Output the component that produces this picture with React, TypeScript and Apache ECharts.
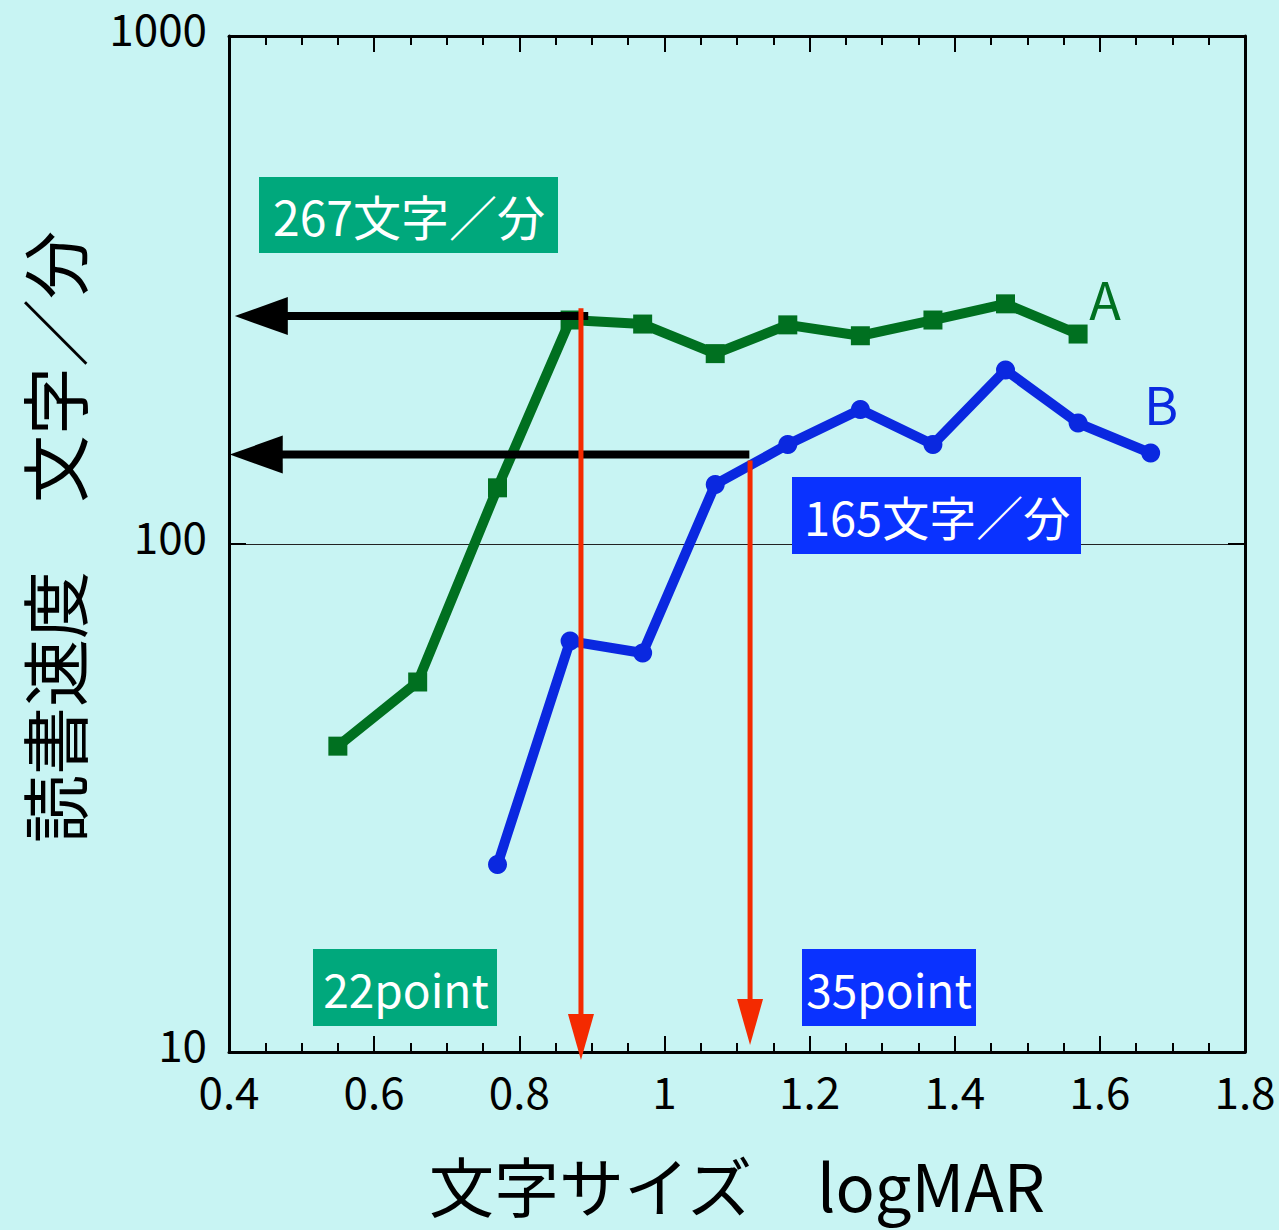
import React, { useEffect, useRef } from "react";
import * as echarts from "echarts";

// logMAR values (x) and reading speed (chars/min)
const xA = [0.55, 0.66, 0.77, 0.87, 0.97, 1.07, 1.17, 1.27, 1.37, 1.47, 1.57];
const speedA = [40, 53.5, 129, 276, 271, 237, 270, 257, 276, 297, 259];
const xB = [0.77, 0.87, 0.97, 1.07, 1.17, 1.27, 1.37, 1.47, 1.57, 1.67];
const speedB = [23.4, 64.4, 61, 131, 157, 184, 157, 220, 173, 151];

// annotation arrows: [fromX, fromY, toX, toY]
const blackArrows = [
  [0.895, 281, 0.408, 281],
  [1.117, 150, 0.401, 150],
];
const redArrows = [
  [0.885, 291, 0.885, 9.64],
  [1.118, 146, 1.118, 10.32],
];

const xTicks = { min: 0.4, max: 1.8, interval: 0.2 };
const yTicks = { min: 10, max: 1000 };

const FONT = '"Noto Sans CJK JP", "Noto Sans", sans-serif';
const BG = "#c8f4f3";
const GREEN = "#007020";
const BLUE = "#0a28e0";
const GREEN_BOX = "#00a87c";
const BLUE_BOX = "#0a32ff";

function arrowRenderer(color: string, lw: number, headLen: number, halfW: number) {
  return (params: any, api: any) => {
    const p1 = api.coord([api.value(0), api.value(1)]);
    const p2 = api.coord([api.value(2), api.value(3)]);
    const dx = p2[0] - p1[0];
    const dy = p2[1] - p1[1];
    const len = Math.sqrt(dx * dx + dy * dy) || 1;
    const ux = dx / len;
    const uy = dy / len;
    const bx = p2[0] - ux * headLen;
    const by = p2[1] - uy * headLen;
    const px = -uy;
    const py = ux;
    return {
      type: "group",
      children: [
        {
          type: "line",
          shape: { x1: p1[0], y1: p1[1], x2: bx + ux * 2, y2: by + uy * 2 },
          style: { stroke: color, lineWidth: lw },
        },
        {
          type: "polygon",
          shape: {
            points: [
              [p2[0], p2[1]],
              [bx + px * halfW, by + py * halfW],
              [bx - px * halfW, by - py * halfW],
            ],
          },
          style: { fill: color },
        },
      ],
    };
  };
}

function boxText(x: number, y: number, w: number, h: number, fill: string, text: string, cx: number, cy: number, size: number) {
  return [
    { type: "rect", z: 50, shape: { x, y, width: w, height: h }, style: { fill } },
    {
      type: "text",
      z: 51,
      x: cx,
      y: cy,
      style: {
        text,
        fill: "#ffffff",
        font: `${size}px ${FONT}`,
        align: "center",
        verticalAlign: "middle",
        textAlign: "center",
        textVerticalAlign: "middle",
      },
    },
  ];
}

export default function App() {
  const ref = useRef<HTMLDivElement>(null);
  useEffect(() => {
    if (!ref.current) return;
    const chart = echarts.init(ref.current, null, { renderer: "svg" });
    const axisLine = { show: true, lineStyle: { color: "#000", width: 3 } };
    const xCommon = {
      type: "value",
      min: xTicks.min,
      max: xTicks.max,
      interval: xTicks.interval,
      axisLine,
      axisTick: { show: true, inside: true, length: 16, lineStyle: { color: "#000", width: 2 } },
      minorTick: { show: true, splitNumber: 4, length: 9, lineStyle: { color: "#000", width: 2 } },
      splitLine: { show: false },
      minorSplitLine: { show: false },
    };
    const yCommon = {
      type: "log",
      logBase: 10,
      min: yTicks.min,
      max: yTicks.max,
      axisLine,
      axisTick: { show: true, inside: true, length: 17, lineStyle: { color: "#000", width: 2 } },
    };
    const option: any = {
      animation: false,
      backgroundColor: BG,
      grid: { left: 229, top: 36, right: 34, bottom: 178, containLabel: false },
      xAxis: [
        {
          ...xCommon,
          position: "bottom",
          axisLabel: {
            show: true,
            fontSize: 44,
            fontFamily: FONT,
            color: "#000",
            margin: 16,
            formatter: (v: number) => String(Math.round(v * 10) / 10),
          },
        },
        { ...xCommon, position: "top", axisLabel: { show: false } },
      ],
      yAxis: [
        {
          ...yCommon,
          position: "left",
          splitLine: { show: true, lineStyle: { color: "#222", width: 1 } },
          axisLabel: {
            show: true,
            fontSize: 44,
            fontFamily: FONT,
            color: "#000",
            margin: 22,
            formatter: (v: number) => String(Math.round(v)),
            verticalAlign: "bottom",
            lineHeight: 44,
            padding: [0, 0, -13, 0],
          },
        },
        { ...yCommon, position: "right", splitLine: { show: false }, axisLabel: { show: false } },
      ],
      series: [
        {
          type: "line",
          name: "A",
          data: xA.map((x, i) => [x, speedA[i]]),
          symbol: "rect",
          symbolSize: 19,
          itemStyle: { color: GREEN },
          lineStyle: { color: GREEN, width: 10 },
          z: 2,
        },
        {
          type: "line",
          name: "B",
          data: xB.map((x, i) => [x, speedB[i]]),
          symbol: "circle",
          symbolSize: 19,
          itemStyle: { color: BLUE },
          lineStyle: { color: BLUE, width: 10 },
          z: 2,
        },
        {
          type: "custom",
          name: "speed arrows",
          data: blackArrows,
          renderItem: arrowRenderer("#000", 8, 53, 19),
          clip: false,
          z: 3,
        },
        {
          type: "custom",
          name: "size arrows",
          data: redArrows,
          renderItem: arrowRenderer("#f42a00", 5, 46, 13),
          clip: false,
          z: 4,
        },
      ],
      graphic: [
        ...boxText(259, 177, 299, 76, GREEN_BOX, "267文字／分", 409, 215, 48),
        ...boxText(792, 477, 289, 77, BLUE_BOX, "165文字／分", 937, 515, 47),
        ...boxText(313, 949, 184, 77, GREEN_BOX, "22point", 406, 988, 46),
        ...boxText(802, 949, 174, 77, BLUE_BOX, "35point", 889, 988, 46),
        {
          type: "text",
          x: 1105,
          y: 297,
          style: { text: "A", fill: GREEN, font: `52px ${FONT}`, align: "center", verticalAlign: "middle", textAlign: "center", textVerticalAlign: "middle" },
        },
        {
          type: "text",
          x: 1161,
          y: 402,
          style: { text: "B", fill: BLUE, font: `52px ${FONT}`, align: "center", verticalAlign: "middle", textAlign: "center", textVerticalAlign: "middle" },
        },
        {
          type: "text",
          x: 52,
          y: 537,
          rotation: Math.PI / 2,
          style: { text: "読書速度　文字／分", fill: "#000", font: `68px ${FONT}`, align: "center", verticalAlign: "middle", textAlign: "center", textVerticalAlign: "middle" },
        },
        {
          type: "text",
          x: 737,
          y: 1184,
          style: { text: "文字サイズ　logMAR", fill: "#000", font: `65px ${FONT}`, align: "center", verticalAlign: "middle", textAlign: "center", textVerticalAlign: "middle" },
        },
      ],
    };
    chart.setOption(option);
    return () => chart.dispose();
  }, []);
  return (
    <div
      ref={ref}
      style={{ position: "absolute", left: 0, top: 0, width: 1279, height: 1230, background: BG }}
    />
  );
}
